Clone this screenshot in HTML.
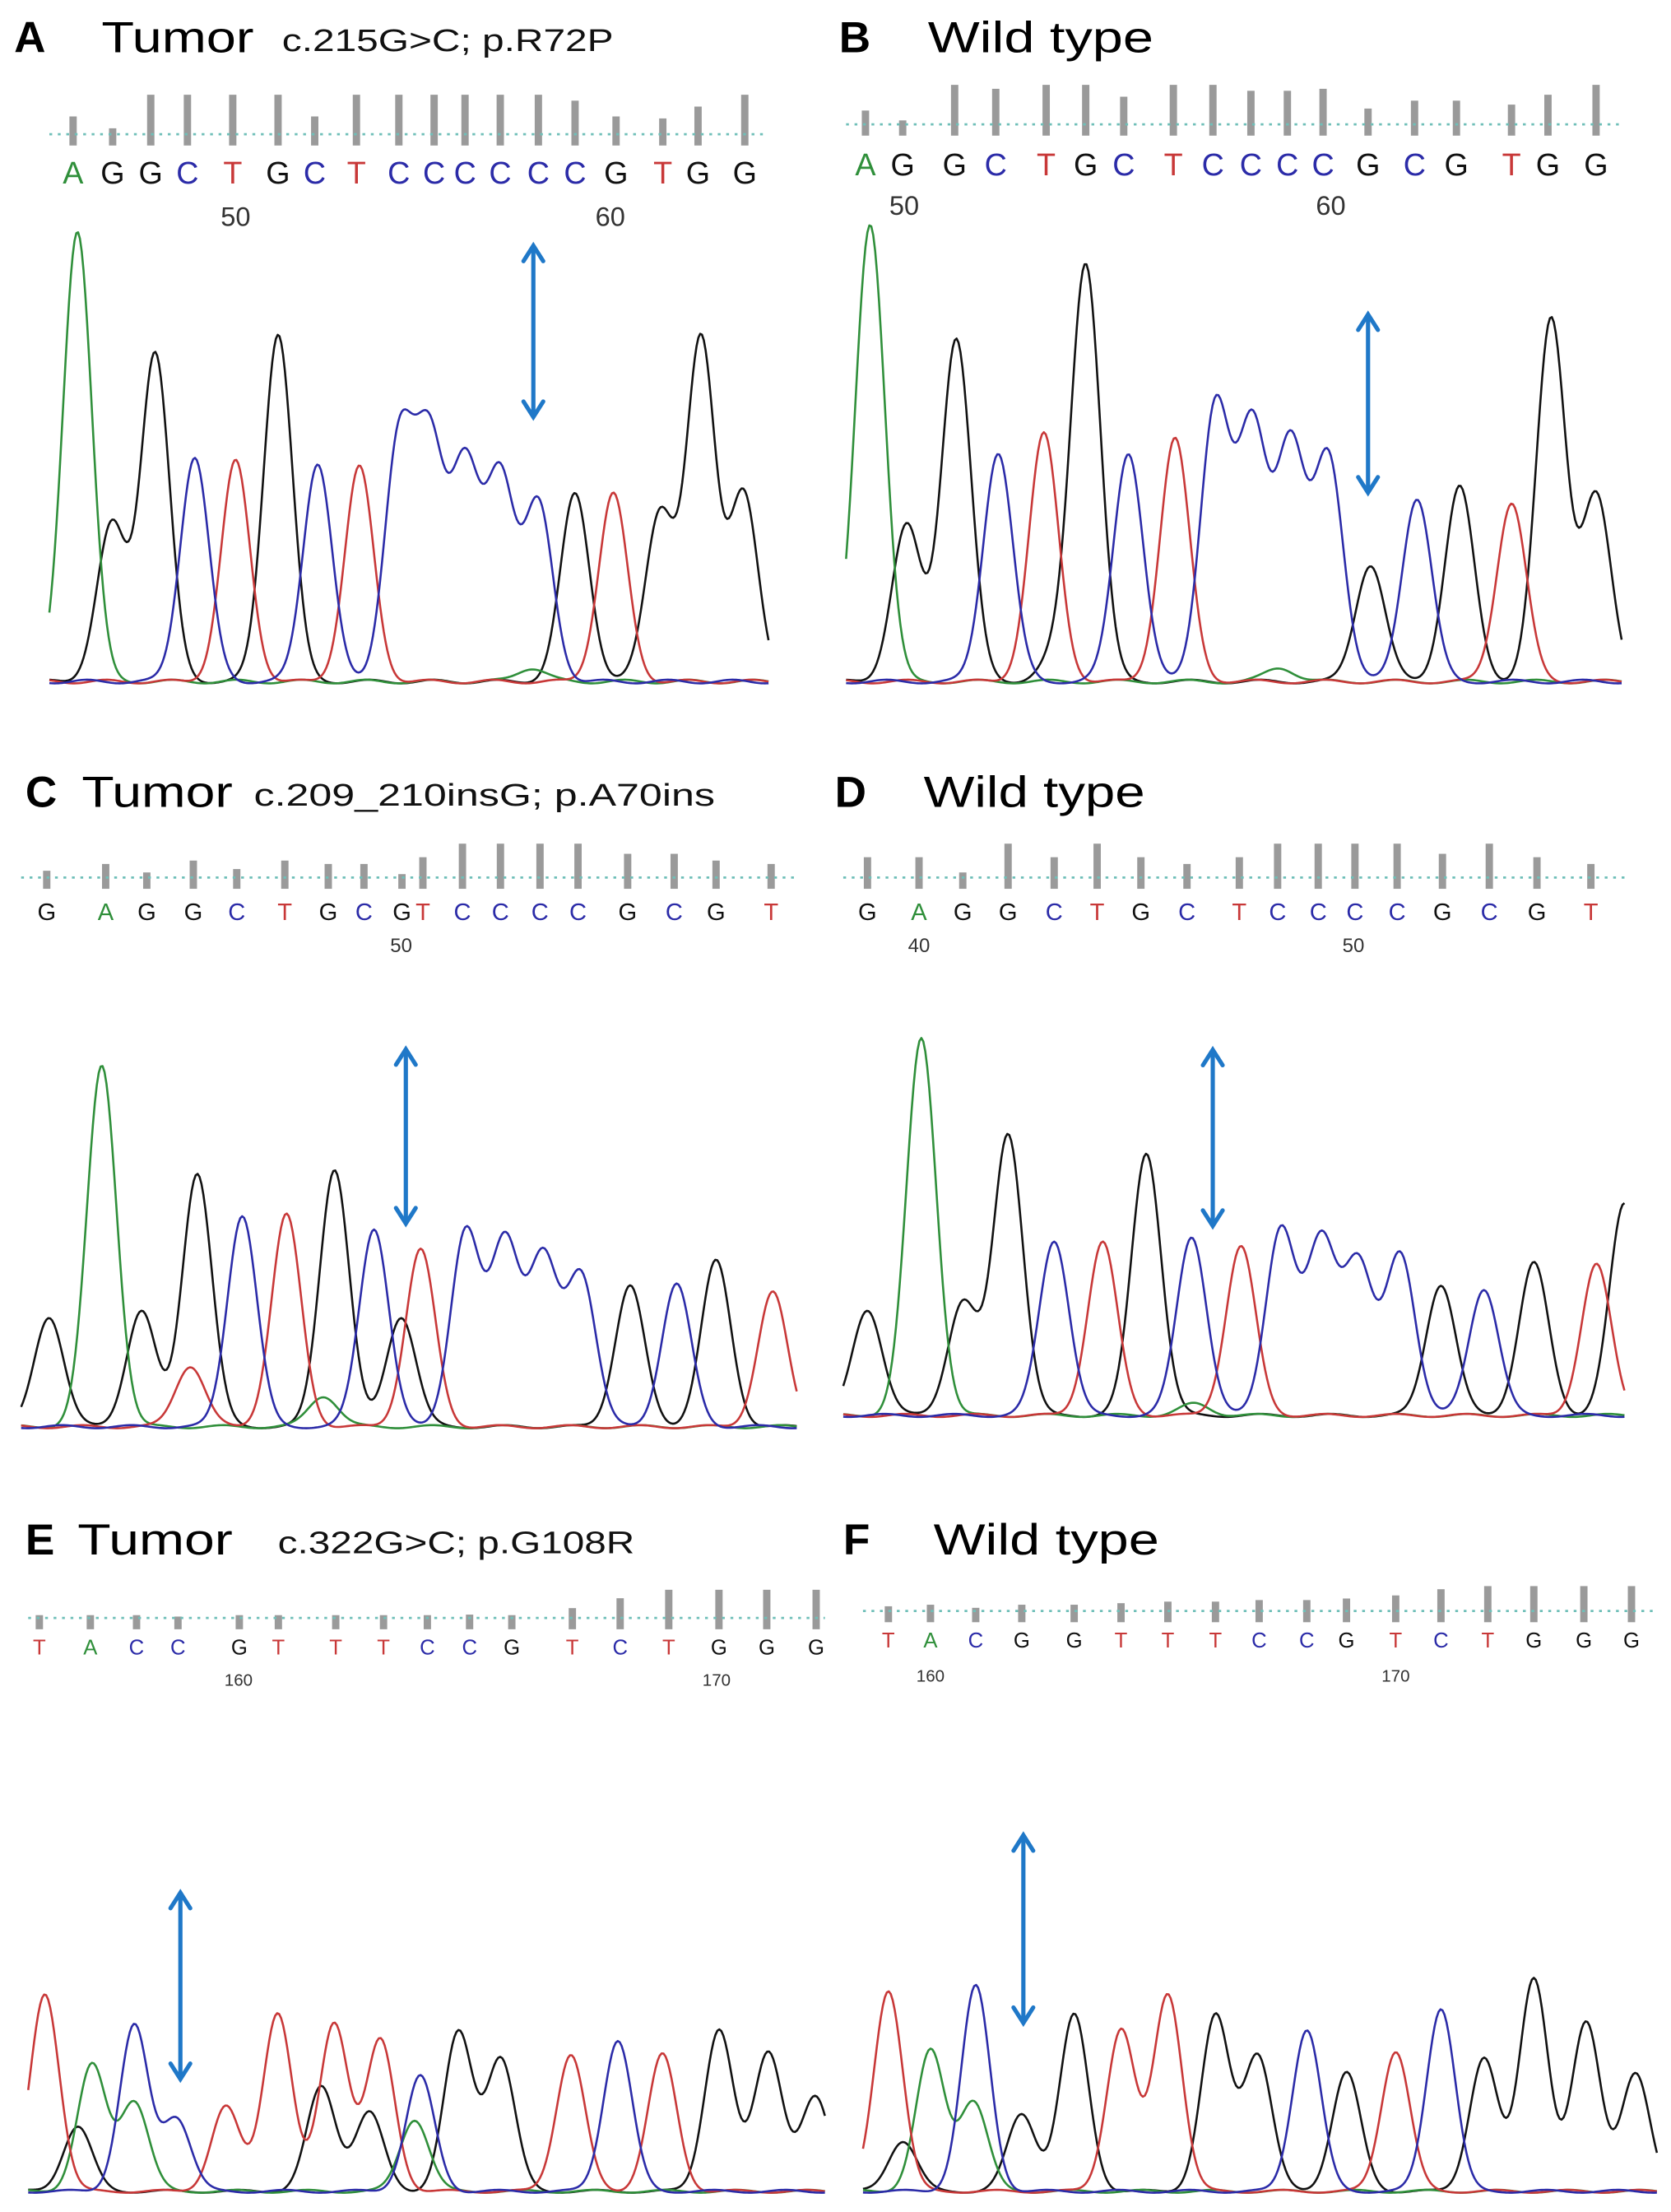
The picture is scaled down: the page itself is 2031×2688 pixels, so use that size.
<!DOCTYPE html>
<html><head><meta charset="utf-8">
<style>
html,body{margin:0;padding:0;background:#fff;}
svg{display:block;}
</style></head>
<body>
<svg id="fig" xmlns="http://www.w3.org/2000/svg" width="2031" height="2688" viewBox="0 0 1185 1568">
<rect x="0" y="0" width="1185" height="1568" fill="#fff"/>
</svg>
<script>
// ---- data ----
const panelLabels = ["A","B","C","D","E","F"];
const panelKinds = ["Tumor","Wild type","Tumor","Wild type","Tumor","Wild type"];
const panelMutations = ["c.215G>C; p.R72P","","c.209_210insG; p.A70ins","","c.322G>C; p.G108R",""];

const callsA = "AGGCTGCTCCCCCCGTGG";
const callPosA = [3.3,8.8,14.1,19.2,25.5,31.8,36.9,42.7,48.6,53.5,57.8,62.7,68,73.1,78.8,85.3,90.2,96.7];
const qualA = [45,15,100,100,100,100,45,100,100,100,100,100,100,85,45,40,70,100];
const tickLabelsA = ["50","60"]; const tickPosA = [25.9,78];
const peakChA = "AGGCTGCTCCCCCGTGGGAG";
const peakXA = [3.9,8.8,14.7,20.2,25.9,31.8,37.3,43.1,48.6,52.9,57.8,62.7,68,73.1,78.4,84.9,90.6,96.5,67,7.5];
const peakYA = [98.5,30.8,71.7,49,48,76,47.7,46.8,52,51,46,44.6,38.5,41,41,37,74.5,41,3,4];

const callsB = "AGGCTGCTCCCCGCGTGG";
const callPosB = [2.5,7.3,14,19.3,25.8,30.9,35.8,42.2,47.3,52.2,56.9,61.5,67.3,73.3,78.7,85.8,90.5,96.7];
const qualB = [35,10,100,90,100,100,70,100,100,85,85,90,40,60,60,50,75,100];
const tickLabelsB = ["50","60"]; const tickPosB = [7.5,62.5];
const peakChB = "AGGCTGCTCCCCGCGTGGGA";
const peakXB = [3.1,7.8,14.2,19.6,25.5,30.9,36.4,42.4,47.6,52.4,57.3,62.2,67.6,73.6,79.1,85.8,90.9,96.7,27,56];
const peakYB = [100,34,75,50,54,91,50,53,60,55,51,49,25.5,40,42.5,39,79,40.6,5,3];

const callsC = "GAGGCTGCGTCCCCGCGT";
const callPosC = [3.3,10.9,16.2,22.2,27.8,34,39.6,44.2,49.1,51.8,56.9,61.8,66.9,71.8,78.2,84.2,89.6,96.7];
const qualC = [20,40,15,50,25,50,40,40,10,60,100,100,100,100,70,70,50,40];
const tickLabelsC = ["50"]; const tickPosC = [49];
const peakChC = "GAGGCTGCTCCCCGCGTGTA";
const peakXC = [3.6,10.4,15.5,22.7,28.5,34.2,40.4,45.5,51.5,57.3,62.4,67.3,72.2,78.5,84.5,89.6,96.9,49,21.8,39];
const peakYC = [28.6,93.8,30,66,55,55,67,51.6,46,50.5,48,43,39.5,36.6,37,43,34.8,28.6,15.8,8];

const callsD = "GAGGCTGCTCCCCGCGT";
const callPosD = [3.1,9.7,15.3,21.1,27,32.5,38.1,44,50.7,55.6,60.8,65.5,70.9,76.7,82.7,88.8,95.7];
const qualD = [60,60,15,100,60,100,60,40,60,100,100,100,100,70,100,60,40];
const tickLabelsD = ["40","50"]; const tickPosD = [9.7,65.3];
const peakChD = "GAGGCTGCTCCCCGCGTGA";
const peakXD = [3.1,10,15.3,21.1,27,33.2,38.8,44.6,50.9,56,61.2,65.9,71.3,76.5,82,88.4,96.4,100,45];
const peakYD = [27.8,99,29.6,74,46,45.5,69,47,44.4,49,45.5,39.6,42.6,34.4,33.3,40,39.6,55.6,3];

const callsE = "TACCGTTTCCGTCTGGG";
const callPosE = [1.4,7.8,13.6,18.8,26.5,31.4,38.6,44.6,50.1,55.4,60.7,68.3,74.3,80.4,86.7,92.7,98.9];
const qualE = [10,10,10,5,10,10,10,10,10,12,10,35,70,100,100,100,100];
const tickLabelsE = ["160","170"]; const tickPosE = [26.4,86.4];
const peakChE = "TAACCTTTTCGGTCTGGGGGGA";
const peakXE = [2.1,8,13.3,13.3,18.6,24.8,31.3,38.4,44.2,49.2,54,59.3,68.1,74,79.6,86.7,92.9,98.8,6.2,36.8,42.8,48.5];
const peakYE = [55,35,25,46,20.4,23.5,49.8,47,42,32,44,37,38,42,38,45,39,26,18,29,22,20];

const callsF = "TACGGTTTCCGTCTGGG";
const callPosF = [3.2,8.5,14.2,20,26.6,32.5,38.4,44.4,49.9,55.9,60.9,67.1,72.8,78.7,84.5,90.8,96.8];
const qualF = [15,20,10,20,20,25,30,30,35,35,40,50,70,80,80,80,80];
const tickLabelsF = ["160","170"]; const tickPosF = [8.5,67.1];
const peakChF = "TACGGTTGGCGTCGGGGAG";
const peakXF = [3.2,8.5,14.2,20,26.6,32.5,38.4,44.4,49.7,55.9,60.9,67.1,72.8,78.2,84.5,91.1,97.3,13.9,5];
const peakYF = [56,39,57,21.5,49,45,55,48.6,38,45,33,39,51,37,59.6,47,32.5,25,14];

// arrow positions as trace units (mutation site) and signal range
const arrowX = [67.3,67.3,49.6,47.3,19.1,20.2];
const arrowY0 = [58,41.5,53,50,31.4,47];
const arrowY1 = [96,81,99,97,84,100];

// ---- layout (display units, viewBox 1185x1568) ----
const L = [
 {title:[10,37,72,200,435], line:95, letters:130, nums:160, cx0:35, cx1:545, cy0:160, cy1:485, barMax:28, sigma:2.0, fs:22},
 {title:[595,37,658,0,818], line:88, letters:124, nums:152, cx0:600, cx1:1150, cy0:160, cy1:485, barMax:28, sigma:1.9, fs:22},
 {title:[18,572,58,180,507], line:622, letters:652, nums:675, cx0:15, cx1:565, cy0:740, cy1:1013, barMax:24, sigma:1.9, fs:17},
 {title:[592,572,655,0,812], line:622, letters:652, nums:675, cx0:598, cx1:1152, cy0:735, cy1:1005, barMax:24, sigma:1.9, fs:17},
 {title:[18,1102,55,197,450], line:1147, letters:1173, nums:1195, cx0:20, cx1:585, cy0:1300, cy1:1555, barMax:20, sigma:1.8, fs:15},
 {title:[598,1102,662,0,822], line:1142, letters:1168, nums:1192, cx0:612, cx1:1175, cy0:1300, cy1:1555, barMax:22, sigma:1.8, fs:15}
];
const titleEnds = [180,818,165,812,165,822];
const DATA = [
 [callsA,callPosA,qualA,tickLabelsA,tickPosA,peakChA,peakXA,peakYA],
 [callsB,callPosB,qualB,tickLabelsB,tickPosB,peakChB,peakXB,peakYB],
 [callsC,callPosC,qualC,tickLabelsC,tickPosC,peakChC,peakXC,peakYC],
 [callsD,callPosD,qualD,tickLabelsD,tickPosD,peakChD,peakXD,peakYD],
 [callsE,callPosE,qualE,tickLabelsE,tickPosE,peakChE,peakXE,peakYE],
 [callsF,callPosF,qualF,tickLabelsF,tickPosF,peakChF,peakXF,peakYF]
];
const COL = {A:"#2f8f3a",G:"#111111",C:"#2b2ba8",T:"#c83838"};
const NS = "http://www.w3.org/2000/svg";
const svg = document.getElementById("fig");
function mk(tag, attrs, parent){ const e=document.createElementNS(NS,tag); for(const k in attrs) e.setAttribute(k,attrs[k]); (parent||svg).appendChild(e); return e; }

for(let p=0;p<6;p++){
  const lay=L[p]; const [calls,callPos,qual,tickLabels,tickPos,peakCh,peakX,peakY]=DATA[p];
  const xS = v => lay.cx0 + (lay.cx1-lay.cx0)*v/100;
  const yS = v => lay.cy1 - (lay.cy1-lay.cy0)*v/100;
  const g = mk("g",{});
  
  
  const t=lay.title;
  const tl = mk("text",{x:t[0],y:t[1],"font-family":"Liberation Sans, sans-serif","font-weight":"bold","font-size":31,fill:"#000"},g);
  tl.textContent=panelLabels[p];
  
  
  const tk = mk("text",{x:t[2],y:t[1],"font-family":"Liberation Sans, sans-serif","font-size":31,fill:"#000",textLength:titleEnds[p]-t[2],lengthAdjust:"spacingAndGlyphs"},g);
  tk.textContent=panelKinds[p];
  
  
  if(panelMutations[p]){
    const tm = mk("text",{x:t[3],y:t[1]-1,"font-family":"Liberation Sans, sans-serif","font-size":22,fill:"#111",textLength:t[4]-t[3],lengthAdjust:"spacingAndGlyphs"},g);
    tm.textContent=panelMutations[p];
    
    
  }
  for(let i=0;i<qual.length;i++){
    const x=xS(callPos[i]); const h=lay.barMax*qual[i]/100;
    const b=mk("rect",{x:x-2.6,y:lay.line-h,width:5.2,height:h+8,fill:"#9a9a9a"},g);
    
    
  }
  const dl=mk("line",{x1:lay.cx0,x2:lay.cx1,y1:lay.line,y2:lay.line,stroke:"#6fbfb8","stroke-width":1.6,"stroke-dasharray":"2 4"},g);
  
  
  for(let i=0;i<calls.length;i++){
    const c=calls[i];
    const lt=mk("text",{x:xS(callPos[i]),y:lay.letters,"text-anchor":"middle","font-family":"Liberation Sans, sans-serif","font-size":lay.fs,fill:COL[c]},g);
    lt.textContent=c;
    
    
  }
  for(let i=0;i<tickLabels.length;i++){
    const nt=mk("text",{x:xS(tickPos[i]),y:lay.nums,"text-anchor":"middle","font-family":"Liberation Sans, sans-serif","font-size":lay.fs-3,fill:"#333"},g);
    nt.textContent=tickLabels[i];
    
    
  }
  for(const ch of ["G","A","T","C"]){
    let d="";
    for(let s=0;s<=400;s++){
      const u=s/4; let v=0.6 + 0.4*Math.sin(u*0.7+ch.charCodeAt(0));
      for(let k=0;k<peakX.length;k++) if(peakCh[k]===ch){ const z=(u-peakX[k])/lay.sigma; v+=peakY[k]*Math.exp(-0.5*z*z); }
      v=Math.min(v,101);
      d+=(s?"L":"M")+xS(u).toFixed(2)+" "+yS(v).toFixed(2);
    }
    const tr=mk("path",{d:d,fill:"none",stroke:COL[ch],"stroke-width":1.5,"stroke-linejoin":"round"},g);
    
    
  }
  const ax=xS(arrowX[p]), a0=yS(arrowY1[p]), a1=yS(arrowY0[p]);
  const ar=mk("g",{stroke:"#1f78c8","stroke-width":3,fill:"none","stroke-linecap":"round"},g);
  
  
  mk("line",{x1:ax,x2:ax,y1:a0+2,y2:a1-2},ar);
  mk("polyline",{points:`${ax-7},${a0+12} ${ax},${a0+1} ${ax+7},${a0+12}`},ar);
  mk("polyline",{points:`${ax-7},${a1-12} ${ax},${a1-1} ${ax+7},${a1-12}`},ar);
}
</script>
</body></html>
